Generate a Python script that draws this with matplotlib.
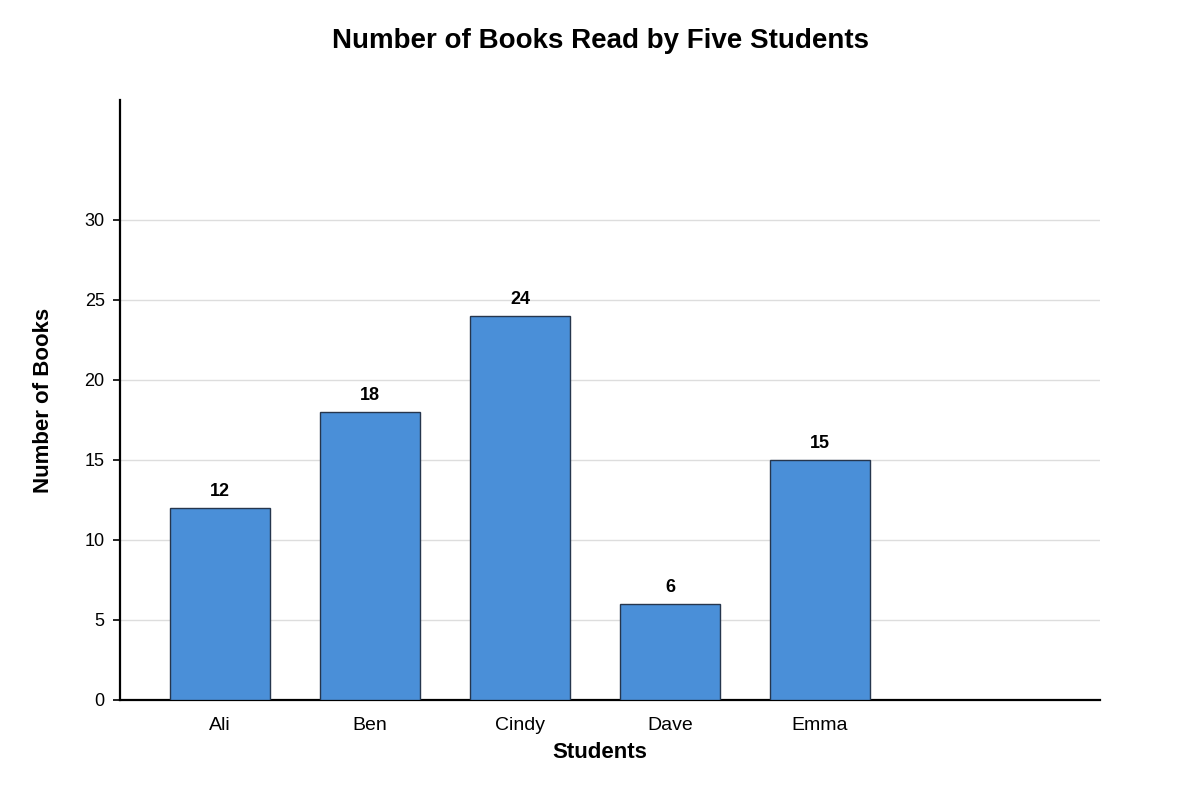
import matplotlib
matplotlib.use("Agg")
import matplotlib.pyplot as plt

plt.rcParams['font.family'] = ['Liberation Sans', 'DejaVu Sans']

# chart data
students = ['Ali', 'Ben', 'Cindy', 'Dave', 'Emma']
books = [12, 18, 24, 6, 15]
y_ticks = [0, 5, 10, 15, 20, 25, 30]

fig = plt.figure(figsize=(12, 8), dpi=100)
ax = fig.add_axes([0.1, 0.125, 980 / 1200, 0.75])

x = list(range(len(students)))
bars = ax.bar(x, books, width=2 / 3, color='#4a8fd8', edgecolor='#26364d',
              linewidth=1, zorder=3)

for rect, val in zip(bars, books):
    ax.annotate(str(val), (rect.get_x() + rect.get_width() / 2, rect.get_height()),
                xytext=(0, 6), textcoords='offset points', ha='center', va='bottom',
                fontsize=13, fontweight='bold', color='black')

ax.set_xlim(-2 / 3, 4 + 280 / 150)
ax.set_ylim(0, 37.5)
ax.set_yticks(y_ticks)
ax.set_xticks(x)
ax.set_xticklabels(students)

ax.grid(axis='y', color='#dddddd', linewidth=1, zorder=0)
ax.set_axisbelow(True)

for side in ['top', 'right']:
    ax.spines[side].set_visible(False)
for side in ['left', 'bottom']:
    ax.spines[side].set_linewidth(1.6)
    ax.spines[side].set_color('black')

ax.tick_params(axis='y', length=5, width=1.2, labelsize=13, pad=6)
ax.tick_params(axis='x', length=0, labelsize=14, pad=12)

# x label is centred on the figure, not the axes
fig.text(0.5, 1 - 752 / 800, 'Students', fontsize=16, fontweight='bold',
         ha='center', va='center')
ax.set_ylabel('Number of Books', fontsize=16, fontweight='bold', labelpad=22)
fig.suptitle('Number of Books Read by Five Students', fontsize=20, fontweight='bold',
             y=1 - 41 / 800, va='center')

fig.savefig('out.png', dpi=100)
